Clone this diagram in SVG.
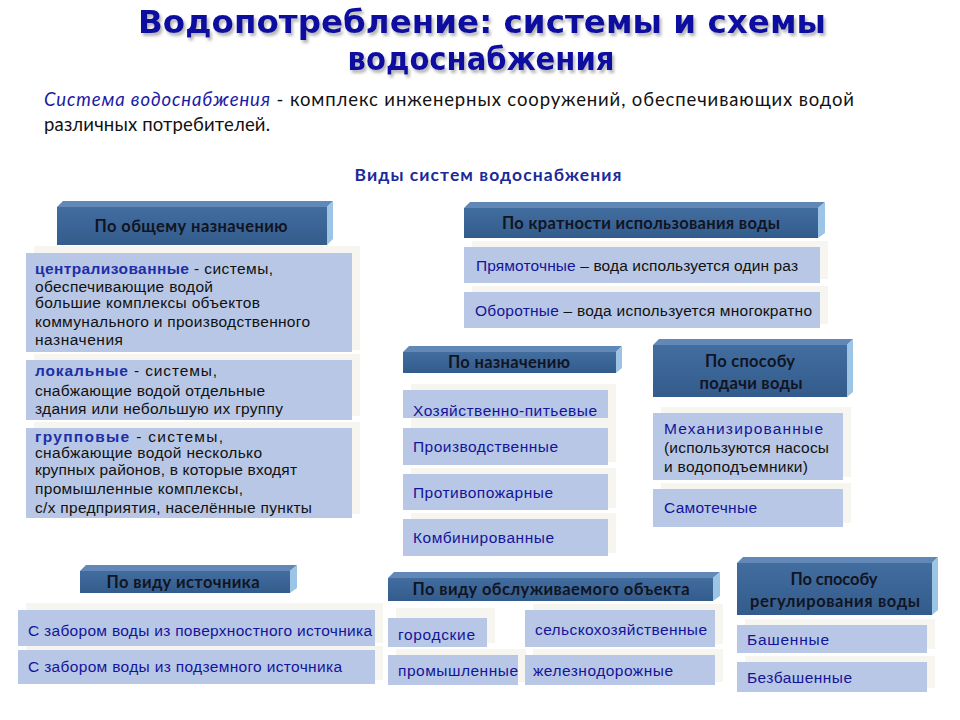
<svg xmlns="http://www.w3.org/2000/svg" width="960" height="720" viewBox="0 0 960 720">
<defs>
<linearGradient id="face" x1="0" y1="0" x2="0" y2="1">
<stop offset="0" stop-color="#426d9f"/>
<stop offset="1" stop-color="#335c8c"/>
</linearGradient>
<filter id="tsh" x="-5%" y="-20%" width="110%" height="150%">
<feDropShadow dx="2" dy="3" stdDeviation="1.5" flood-color="#777" flood-opacity="0.55"/>
</filter>
<style>
.face{fill:url(#face)}
.top{fill:#6188b6}
.side{fill:#9cc4e4}
.box{fill:#b8c7e5}
.cream{fill:#f7f5ef}
.hd{font-family:Lato,"Open Sans",sans-serif;font-weight:bold;font-size:16.5px;fill:#111422;text-anchor:middle}
.it{font-family:"Liberation Sans",Arial,sans-serif;font-size:15.5px;fill:#14149a}
.bd{font-family:"Liberation Sans",Arial,sans-serif;font-size:15.5px;fill:#111}
.kw{font-weight:bold;fill:#1d2fa8}
.ttl{font-family:"DejaVu Sans",sans-serif;font-weight:bold;font-size:32px;fill:#0c0ca0;text-anchor:middle}
.sub{font-family:Lato,"Open Sans",sans-serif;font-size:18.5px;fill:#111}
</style>
</defs>
<rect width="960" height="720" fill="#fff"/>

<g id="title" filter="url(#tsh)">
<text class="ttl" x="482" y="33" textLength="688" lengthAdjust="spacingAndGlyphs">Водопотребление: системы и схемы</text>
<text class="ttl" x="481" y="70" textLength="267" lengthAdjust="spacingAndGlyphs">водоснабжения</text>
</g>
<g id="definition">
<text class="sub" x="44" y="106" textLength="810" lengthAdjust="spacing"><tspan font-style="italic" fill="#1a1aa8">Система водоснабжения</tspan> - комплекс инженерных сооружений, обеспечивающих водой</text>
<text class="sub" x="44" y="131" textLength="226" lengthAdjust="spacing">различных потребителей.</text>
</g>
<g id="heading">
<text x="488" y="181" font-family="Lato,'Open Sans',sans-serif" font-weight="bold" font-size="17.5" fill="#1a2a9a" text-anchor="middle" textLength="267" lengthAdjust="spacing">Виды систем водоснабжения</text>
</g>

<!-- По общему назначению -->
<g id="h-general">
<polygon class="top" points="57,207 63,201 333,201 327,207"/>
<polygon class="side" points="327,207 333,201 333,239 327,245"/>
<rect class="face" x="57" y="207" width="270" height="38"/>
<text class="hd" x="191" y="232" textLength="193" lengthAdjust="spacing">По общему назначению</text>
</g>
<g id="n-central">
<rect class="cream" x="34" y="246" width="326" height="104"/>
<rect class="box" x="26" y="253" width="326" height="99"/>
<text class="bd" x="35" y="274" textLength="238" lengthAdjust="spacing"><tspan class="kw">централизованные</tspan> - системы,</text>
<text class="bd" x="35" y="292" textLength="178" lengthAdjust="spacing">обеспечивающие водой</text>
<text class="bd" x="35" y="308" textLength="225" lengthAdjust="spacing">большие комплексы объектов</text>
<text class="bd" x="35" y="327" textLength="275" lengthAdjust="spacing">коммунального и производственного</text>
<text class="bd" x="35" y="345" textLength="88" lengthAdjust="spacing">назначения</text>
</g>
<g id="n-local">
<rect class="cream" x="34" y="354" width="326" height="62"/>
<rect class="box" x="26" y="360" width="326" height="60"/>
<text class="bd" x="35" y="376" textLength="182" lengthAdjust="spacing"><tspan class="kw">локальные</tspan> - системы,</text>
<text class="bd" x="35" y="396" textLength="230" lengthAdjust="spacing">снабжающие водой отдельные</text>
<text class="bd" x="35" y="414" textLength="248" lengthAdjust="spacing">здания или небольшую их группу</text>
</g>
<g id="n-group">
<rect class="cream" x="34" y="422" width="326" height="92"/>
<rect class="box" x="26" y="428" width="326" height="90"/>
<text class="bd" x="35" y="442" textLength="188" lengthAdjust="spacing"><tspan class="kw">групповые</tspan> - системы,</text>
<text class="bd" x="35" y="458" textLength="227" lengthAdjust="spacing">снабжающие водой несколько</text>
<text class="bd" x="35" y="475" textLength="262" lengthAdjust="spacing">крупных районов, в которые входят</text>
<text class="bd" x="35" y="494" textLength="208" lengthAdjust="spacing">промышленные комплексы,</text>
<text class="bd" x="35" y="513" textLength="277" lengthAdjust="spacing">с/х предприятия, населённые пункты</text>
</g>

<!-- По кратности -->
<g id="h-multiplicity">
<polygon class="top" points="464,208 470,202 825,202 818,208"/>
<polygon class="side" points="818,208 825,202 825,233 818,238"/>
<rect class="face" x="464" y="208" width="354" height="30"/>
<text class="hd" x="641" y="229" textLength="278" lengthAdjust="spacing">По кратности использования воды</text>
</g>
<g id="n-direct">
<rect class="cream" x="472" y="241" width="356" height="38"/>
<rect class="box" x="464" y="247" width="356" height="36"/>
<text class="it" x="476" y="271" textLength="322" lengthAdjust="spacing">Прямоточные <tspan fill="#111">– вода используется один раз</tspan></text>
</g>
<g id="n-circulating">
<rect class="cream" x="472" y="286" width="356" height="38"/>
<rect class="box" x="464" y="292" width="356" height="36"/>
<text class="it" x="475" y="316" textLength="337" lengthAdjust="spacing">Оборотные <tspan fill="#111">– вода используется многократно</tspan></text>
</g>

<!-- По назначению -->
<g id="h-purpose">
<polygon class="top" points="403,352 409,346 622,346 616,352"/>
<polygon class="side" points="616,352 622,346 622,368 616,373"/>
<rect class="face" x="403" y="352" width="213" height="21"/>
<text class="hd" x="509" y="368" textLength="122" lengthAdjust="spacing">По назначению</text>
</g>
<g id="n-household">
<rect class="cream" x="411" y="384" width="205" height="40"/>
<rect class="box" x="403" y="390" width="205" height="28"/>
<text class="it" x="413" y="416" textLength="184" lengthAdjust="spacing">Хозяйственно-питьевые</text>
</g>
<g id="n-industrial">
<rect class="cream" x="411" y="422" width="205" height="40"/>
<rect class="box" x="403" y="428" width="205" height="37"/>
<text class="it" x="413" y="452" textLength="145" lengthAdjust="spacing">Производственные</text>
</g>
<g id="n-fire">
<rect class="cream" x="411" y="468" width="205" height="40"/>
<rect class="box" x="403" y="474" width="205" height="36"/>
<text class="it" x="413" y="498" textLength="140" lengthAdjust="spacing">Противопожарные</text>
</g>
<g id="n-combined">
<rect class="cream" x="411" y="513" width="205" height="40"/>
<rect class="box" x="403" y="519" width="205" height="37"/>
<text class="it" x="413" y="543" textLength="141" lengthAdjust="spacing">Комбинированные</text>
</g>

<!-- По способу подачи воды -->
<g id="h-supply">
<polygon class="top" points="653,345 659,339 853,339 847,345"/>
<polygon class="side" points="847,345 853,339 853,392 847,397"/>
<rect class="face" x="653" y="345" width="194" height="52"/>
<text class="hd" x="750" y="367" textLength="90" lengthAdjust="spacing">По способу</text>
<text class="hd" x="751" y="389" textLength="103" lengthAdjust="spacing">подачи воды</text>
</g>
<g id="n-mechanized">
<rect class="cream" x="661" y="407" width="190" height="70"/>
<rect class="box" x="653" y="413" width="190" height="67"/>
<text class="it" x="664" y="434" textLength="159" lengthAdjust="spacing">Механизированные</text>
<text class="bd" x="664" y="453" textLength="165" lengthAdjust="spacing">(используются насосы</text>
<text class="bd" x="664" y="472" textLength="144" lengthAdjust="spacing">и водоподъемники)</text>
</g>
<g id="n-gravity">
<rect class="cream" x="661" y="483" width="190" height="40"/>
<rect class="box" x="653" y="489" width="190" height="38"/>
<text class="it" x="664" y="513" textLength="93" lengthAdjust="spacing">Самотечные</text>
</g>

<!-- По виду источника -->
<g id="h-source">
<polygon class="top" points="80,571 86,565 297,565 290,571"/>
<polygon class="side" points="290,571 297,565 297,588 290,593"/>
<rect class="face" x="80" y="571" width="210" height="22"/>
<text class="hd" x="183" y="588" textLength="153" lengthAdjust="spacing">По виду источника</text>
</g>
<g id="n-surface">
<rect class="cream" x="26" y="603" width="357" height="40"/>
<rect class="box" x="18" y="610" width="357" height="36"/>
<text class="it" x="28" y="636" textLength="344" lengthAdjust="spacing">С забором воды из поверхностного источника</text>
</g>
<g id="n-underground">
<rect class="cream" x="26" y="646" width="357" height="34"/>
<rect class="box" x="18" y="650" width="357" height="34"/>
<text class="it" x="28" y="672" textLength="314" lengthAdjust="spacing">С забором воды из подземного источника</text>
</g>

<!-- По виду обслуживаемого объекта -->
<g id="h-object">
<polygon class="top" points="388,578 394,572 720,572 713,578"/>
<polygon class="side" points="713,578 720,572 720,596 713,601"/>
<rect class="face" x="388" y="578" width="325" height="23"/>
<text class="hd" x="551" y="595" textLength="277" lengthAdjust="spacing">По виду обслуживаемого объекта</text>
</g>
<g id="n-urban">
<rect class="cream" x="396" y="608" width="99" height="35"/>
<rect class="box" x="388" y="618" width="99" height="29"/>
<text class="it" x="398" y="640" textLength="77" lengthAdjust="spacing">городские</text>
</g>
<g id="n-agri">
<rect class="cream" x="533" y="604" width="190" height="40"/>
<rect class="box" x="525" y="610" width="190" height="37"/>
<text class="it" x="535" y="635" textLength="172" lengthAdjust="spacing">сельскохозяйственные</text>
</g>
<g id="n-industry">
<rect class="cream" x="396" y="649" width="130" height="33"/>
<rect class="box" x="388" y="655" width="130" height="30"/>
<text class="it" x="398" y="676" textLength="120" lengthAdjust="spacing">промышленные</text>
</g>
<g id="n-rail">
<rect class="cream" x="533" y="649" width="190" height="33"/>
<rect class="box" x="525" y="655" width="190" height="30"/>
<text class="it" x="533" y="676" textLength="140" lengthAdjust="spacing">железнодорожные</text>
</g>

<!-- По способу регулирования воды -->
<g id="h-regulation">
<polygon class="top" points="737,563 743,557 938,557 932,563"/>
<polygon class="side" points="932,563 938,557 938,610 932,615"/>
<rect class="face" x="737" y="563" width="195" height="52"/>
<text class="hd" x="834" y="585" textLength="87" lengthAdjust="spacing">По способу</text>
<text class="hd" x="835" y="607" textLength="170" lengthAdjust="spacing">регулирования воды</text>
</g>
<g id="n-tower">
<rect class="cream" x="745" y="619" width="190" height="30"/>
<rect class="box" x="737" y="625" width="190" height="28"/>
<text class="it" x="747" y="645" textLength="82" lengthAdjust="spacing">Башенные</text>
</g>
<g id="n-towerless">
<rect class="cream" x="745" y="656" width="190" height="32"/>
<rect class="box" x="737" y="662" width="190" height="30"/>
<text class="it" x="747" y="683" textLength="105" lengthAdjust="spacing">Безбашенные</text>
</g>

<g id="connectors"/>
</svg>
